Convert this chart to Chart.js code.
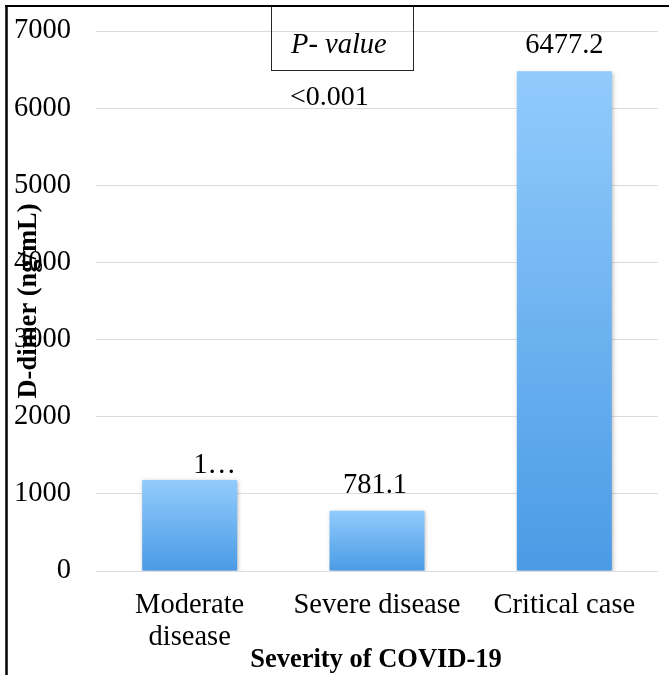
<!DOCTYPE html>
<html>
<head>
<meta charset="utf-8">
<script src="https://cdn.jsdelivr.net/npm/chart.js@4/dist/chart.umd.min.js"></script>
<style>
  html, body { margin: 0; padding: 0; background: #ffffff; }
  #wrap { width: 669px; height: 675px; }
</style>
</head>
<body>
<div id="wrap"><canvas id="chart" width="669" height="675"></canvas></div>
<script>
// D-dimer by COVID-19 severity
const categories = [['Moderate', 'disease'], 'Severe disease', 'Critical case'];
const dDimer = [1180, 781.1, 6477.2];
const valueLabels = ['1\u2026', '781.1', '6477.2'];
const yTicks = [0, 1000, 2000, 3000, 4000, 5000, 6000, 7000];
const pValueHeader = 'P- value';
const pValueText = '<0.001';
const xTitle = 'Severity of COVID-19';
const yTitle = 'D-dimer (ng/mL)';

const SERIF = "'Liberation Serif', 'Times New Roman', serif";
const TOP_BLUE = '#92cbfc';
const BOTTOM_BLUE = '#4a9be5';

// per-label placement relative to the bar top centre
const labelPlacement = [
  { dx: 3.5, dy: -7, align: 'left' },
  { dx: -2, dy: -18, align: 'center' },
  { dx: 0, dy: -18, align: 'center' }
];

function barGradient(ctx) {
  const chart = ctx.chart;
  const y = chart.scales.y;
  if (!chart.chartArea || !y || ctx.parsed === undefined) return BOTTOM_BLUE;
  const top = y.getPixelForValue(ctx.parsed.y);
  const bottom = y.getPixelForValue(0);
  const g = chart.ctx.createLinearGradient(0, top, 0, bottom);
  g.addColorStop(0, TOP_BLUE);
  g.addColorStop(1, BOTTOM_BLUE);
  return g;
}

const decorations = {
  id: 'decorations',
  beforeDatasetsDraw(chart) {
    const c = chart.ctx;
    c.save();
    c.shadowColor = 'rgba(0,0,0,0.28)';
    c.shadowBlur = 4;
    c.shadowOffsetX = 1;
    c.shadowOffsetY = 1.5;
  },
  afterDatasetsDraw(chart) {
    chart.ctx.restore();
  },
  afterDraw(chart) {
    const c = chart.ctx;
    const meta = chart.getDatasetMeta(0);

    // value labels above the bars
    c.save();
    c.fillStyle = '#000';
    c.font = '28.5px ' + SERIF;
    c.textBaseline = 'alphabetic';
    meta.data.forEach((bar, i) => {
      const p = labelPlacement[i];
      c.textAlign = p.align;
      c.fillText(valueLabels[i], bar.x + p.dx, bar.y + p.dy);
    });
    c.restore();

    // P-value box
    c.save();
    c.strokeStyle = '#262626';
    c.lineWidth = 1;
    c.strokeRect(271.5, 6.5, 142, 64);
    c.fillStyle = '#000';
    c.font = 'italic 28.5px ' + SERIF;
    c.textAlign = 'left';
    c.textBaseline = 'alphabetic';
    c.fillText(pValueHeader, 291, 53);
    c.font = '28px ' + SERIF;
    c.fillText(pValueText, 290, 105);
    c.restore();

    // axis titles
    c.save();
    c.fillStyle = '#000';
    c.font = 'bold 26.5px ' + SERIF;
    c.textAlign = 'center';
    c.textBaseline = 'alphabetic';
    c.fillText(xTitle, 376, 667);
    c.translate(29, 301);
    c.rotate(-Math.PI / 2);
    c.textBaseline = 'middle';
    c.fillText(yTitle, 0, 0);
    c.restore();

    // frame lines along the top and left edge
    c.save();
    c.strokeStyle = '#000';
    c.lineWidth = 2;
    c.beginPath();
    c.moveTo(5, 6);
    c.lineTo(669, 6);
    c.stroke();
    c.lineWidth = 2.5;
    c.beginPath();
    c.moveTo(6.5, 5);
    c.lineTo(6.5, 675);
    c.stroke();
    c.restore();
  }
};

new Chart(document.getElementById('chart'), {
  type: 'bar',
  data: {
    labels: categories,
    datasets: [{
      data: dDimer,
      backgroundColor: barGradient,
      borderWidth: 0,
      barPercentage: 0.507,
      categoryPercentage: 1
    }]
  },
  options: {
    responsive: false,
    animation: false,
    devicePixelRatio: 1,
    layout: { padding: { top: 31, right: 11, left: 0, bottom: 0 } },
    plugins: {
      legend: { display: false },
      tooltip: { enabled: false },
      title: { display: false }
    },
    scales: {
      x: {
        grid: { display: false, drawTicks: false },
        border: { display: false },
        ticks: {
          color: '#000',
          font: { family: SERIF, size: 28.5, lineHeight: 1.13 },
          padding: 18,
          maxRotation: 0,
          minRotation: 0,
          autoSkip: false
        },
        afterFit(scale) {
          scale.height = 104;
          scale.paddingLeft = 0;
          scale.paddingRight = 0;
        }
      },
      y: {
        min: 0,
        max: 7000,
        afterBuildTicks(scale) { scale.ticks = yTicks.map(v => ({ value: v })); },
        grid: { color: '#d9dde3', lineWidth: 1, drawTicks: false },
        border: { display: false },
        ticks: {
          color: '#000',
          font: { family: SERIF, size: 28.5 },
          padding: 25,
          callback: (v) => String(v)
        },
        afterFit(scale) {
          scale.width = 96;
          scale.paddingTop = 0;
          scale.paddingBottom = 0;
        }
      }
    }
  },
  plugins: [decorations]
});
</script>
</body>
</html>
